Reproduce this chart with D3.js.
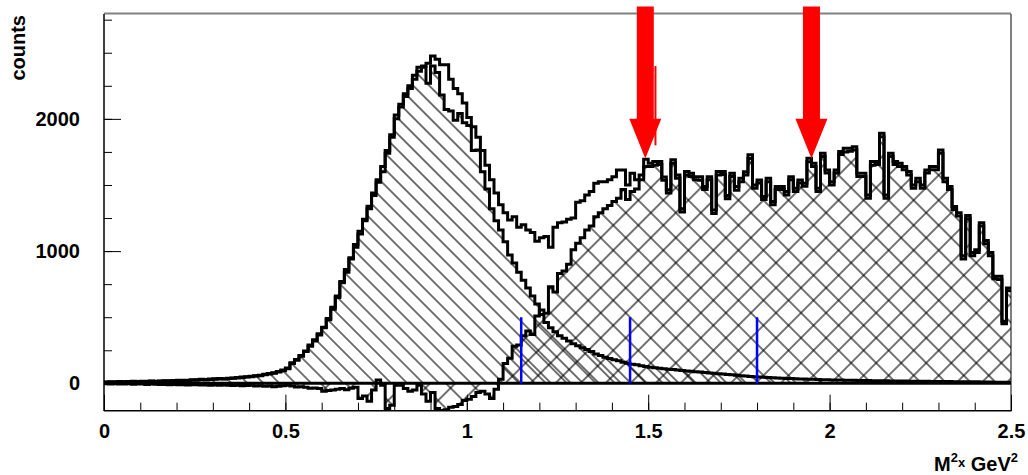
<!DOCTYPE html>
<html>
<head>
<meta charset="utf-8">
<script src="https://cdn.jsdelivr.net/npm/d3@7"></script>
<style>
  body { margin: 0; background: #fff; }
  svg { display: block; }
  text { font-family: "Liberation Sans", Arial, Helvetica, sans-serif; font-weight: bold; fill: #000; }
</style>
</head>
<body>
<svg id="chart" width="1028" height="475"></svg>
<script>
// 200 bins of 0.0125 between 0 and 2.5 (M2x, GeV2)
const xLow = 0, xHigh = 2.5;

// all events (open histogram)
const total = [
  10, 12, 11, 14, 12, 13, 15, 14, 16, 15,
  17, 16, 18, 20, 19, 21, 23, 24, 23, 27,
  28, 30, 29, 32, 34, 36, 35, 39, 41, 45,
  48, 50, 54, 58, 62, 68, 74, 80, 90, 100,
  115, 155, 180, 210, 245, 290, 330, 375, 425, 490,
  575, 660, 770, 860, 950, 1050, 1150, 1240, 1340, 1440,
  1540, 1640, 1760, 1880, 2030, 2110, 2190, 2250, 2330, 2390,
  2400, 2420, 2475, 2450, 2410, 2410, 2300, 2230, 2190, 2120,
  2010, 1940, 1860, 1760, 1650, 1540, 1440, 1350, 1290, 1235,
  1260, 1180, 1200, 1160, 1140, 1075, 1100, 1110, 1030, 1180,
  1215, 1220, 1240, 1250, 1370, 1380, 1425, 1450, 1513, 1525,
  1525, 1540, 1563, 1614, 1614, 1500, 1589, 1540, 1576, 1695,
  1665, 1677, 1677, 1560, 1463, 1690, 1576, 1320, 1601, 1589,
  1563, 1563, 1488, 1563, 1310, 1601, 1601, 1420, 1589, 1488,
  1550, 1600, 1728, 1500, 1538, 1412, 1550, 1375, 1488, 1488,
  1450, 1563, 1475, 1538, 1513, 1702, 1665, 1475, 1740, 1614,
  1525, 1614, 1753, 1778, 1778, 1790, 1589, 1589, 1425, 1677,
  1677, 1892, 1425, 1740, 1677, 1665, 1639, 1601, 1500, 1551,
  1500, 1614, 1639, 1639, 1765, 1551, 1488, 1337, 1290, 965,
  1270, 990, 1010, 1215, 1080, 990, 810, 810, 470, 720
];

// peak component (single hatch)
const peak = [
  8, 10, 9, 12, 10, 11, 13, 12, 14, 13,
  15, 14, 16, 18, 17, 19, 20, 22, 21, 24,
  25, 27, 26, 29, 31, 33, 32, 36, 38, 41,
  44, 47, 50, 55, 58, 64, 70, 77, 85, 95,
  110, 150, 175, 205, 240, 280, 320, 365, 420, 480,
  560, 650, 760, 840, 940, 1030, 1130, 1230, 1320, 1420,
  1520, 1600, 1740, 1860, 2000, 2090, 2170, 2230, 2300, 2360,
  2390, 2270, 2400, 2350, 2180, 2070, 2060, 1990, 2040, 1970,
  1950, 1760, 1765, 1600, 1470, 1320, 1230, 1160, 1070, 970,
  910, 840, 780, 720, 660, 600, 520, 460, 420, 390,
  360, 340, 320, 300, 285, 270, 255, 240, 222, 210,
  198, 188, 178, 170, 160, 152, 145, 140, 132, 128,
  122, 118, 114, 110, 107, 104, 100, 97, 94, 91,
  88, 85, 82, 79, 76, 73, 70, 67, 64, 61,
  58, 55, 52, 50, 48, 46, 44, 42, 40, 39,
  37, 36, 34, 33, 32, 31, 30, 29, 28, 27,
  26, 26, 25, 24, 23, 23, 22, 21, 21, 20,
  20, 19, 19, 18, 18, 17, 17, 16, 16, 15,
  15, 15, 14, 14, 13, 13, 13, 12, 12, 12,
  11, 11, 11, 10, 10, 10, 9, 9, 9, 8
];

// remainder after peak subtraction (cross hatch)
const rest = [
  -3, -5, -4, -6, -5, -4, -7, -6, -5, -8,
  -6, -7, -9, -8, -10, -9, -11, -10, -12, -11,
  -10, -13, -12, -14, -12, -15, -13, -14, -16, -15,
  -18, -17, -15, -20, -18, -22, -20, -25, -22, -18,
  -15, -20, -28, -25, -30, -38, -35, -40, -60, -55,
  -50, -45, -40, -48, -38, -30, -114, -95, -135, -50,
  25, -15, -190, -165, -15, -15, -40, -60, -50, -15,
  -80, -135, -70, -190, -205, -200, -180, -175, -160, -130,
  -120, -100, -70, -60, -80, -115, -45, 30, 150, 190,
  280, 290, 360, 395, 370, 510, 555, 530, 730, 690,
  830, 850, 900, 1010, 1060, 1100, 1160, 1190, 1260, 1290,
  1320, 1345, 1375, 1400, 1465, 1390, 1450, 1470, 1540, 1640,
  1640, 1650, 1655, 1535, 1440, 1665, 1550, 1295, 1575, 1565,
  1540, 1535, 1465, 1540, 1285, 1575, 1580, 1395, 1565, 1460,
  1525, 1575, 1700, 1475, 1515, 1390, 1525, 1350, 1465, 1465,
  1425, 1540, 1450, 1515, 1490, 1675, 1640, 1450, 1715, 1590,
  1500, 1590, 1730, 1750, 1755, 1765, 1565, 1565, 1400, 1650,
  1655, 1865, 1400, 1715, 1655, 1640, 1615, 1575, 1475, 1525,
  1475, 1590, 1615, 1615, 1740, 1525, 1465, 1315, 1265, 940,
  1245, 965, 990, 1190, 1055, 965, 790, 785, 450, 700
];

// cut positions (blue) and arrows (red)
const cuts = [1.15, 1.45, 1.8];
const cutTop = 500;
const arrowsAt = [1.492, 1.95];
const arrowTop = 2850, arrowNeck = 2000, arrowTip = 1700;
const markAt = 1.52, markFrom = 1800, markTo = 2400;

// axis ticks
const xLabels = [0, 0.5, 1, 1.5, 2, 2.5];
const yLabels = [0, 1000, 2000];

const svg = d3.select("#chart");
const x = d3.scaleLinear().domain([xLow, xHigh]).range([104, 1011]);
const y = d3.scaleLinear().domain([-207, 2793]).range([410.7, 14]);

const defs = svg.append("defs");
defs.append("clipPath").attr("id", "plot")
  .append("rect").attr("x", 104).attr("y", 14).attr("width", 907).attr("height", 396.7);

// single hatch "\\\"
const hs = 11.3;
defs.append("pattern").attr("id", "hatch")
  .attr("patternUnits", "userSpaceOnUse")
  .attr("width", hs).attr("height", hs)
  .attr("patternTransform", "rotate(45)")
  .append("line")
  .attr("x1", -1).attr("x2", hs + 1).attr("y1", hs / 2).attr("y2", hs / 2)
  .attr("stroke", "#000").attr("stroke-width", 1.1);

// cross hatch
const cs = 17.7;
const cross = defs.append("pattern").attr("id", "cross")
  .attr("patternUnits", "userSpaceOnUse")
  .attr("width", cs).attr("height", cs)
  .attr("patternTransform", "rotate(45)");
cross.append("line").attr("x1", -1).attr("x2", cs + 1).attr("y1", cs / 2).attr("y2", cs / 2)
  .attr("stroke", "#000").attr("stroke-width", 1.1);
cross.append("line").attr("y1", -1).attr("y2", cs + 1).attr("x1", cs / 2).attr("x2", cs / 2)
  .attr("stroke", "#000").attr("stroke-width", 1.1);

const binW = (xHigh - xLow) / total.length;
function steps(vals) {
  const pts = vals.map((v, i) => [xLow + i * binW, v]);
  pts.push([xHigh, vals[vals.length - 1]]);
  return pts;
}

const area = d3.area()
  .x(d => x(d[0])).y0(y(0)).y1(d => y(d[1]))
  .curve(d3.curveStepAfter);
const line = d3.line()
  .x(d => x(d[0])).y(d => y(d[1]))
  .curve(d3.curveStepAfter);

const plot = svg.append("g").attr("clip-path", "url(#plot)");

plot.append("path").attr("d", area(steps(peak))).attr("fill", "url(#hatch)");
plot.append("path").attr("d", area(steps(rest))).attr("fill", "url(#cross)");

[peak, rest, total].forEach(vals => {
  plot.append("path")
    .attr("d", line(steps(vals)))
    .attr("fill", "none")
    .attr("stroke", "#000")
    .attr("stroke-width", 3)
    .attr("stroke-linejoin", "miter");
});

// zero line
plot.append("line")
  .attr("x1", x(xLow)).attr("x2", x(xHigh))
  .attr("y1", y(0)).attr("y2", y(0))
  .attr("stroke", "#000").attr("stroke-width", 3);

// cut markers
plot.selectAll(".cut").data(cuts).join("line")
  .attr("class", "cut")
  .attr("x1", d => x(d)).attr("x2", d => x(d))
  .attr("y1", y(0)).attr("y2", y(cutTop))
  .attr("stroke", "#0000ff").attr("stroke-width", 2.5);

// axes
const minorX = d3.range(0, 25.5, 1).map(d => d / 10);
const minorY = d3.range(0, 2751, 250);

function styleAxis(g) {
  g.select(".domain").remove();
  g.selectAll(".tick line").attr("stroke", "#000").attr("stroke-width", 1);
  g.selectAll("text").attr("font-family", "'Liberation Sans', Arial, sans-serif")
    .attr("font-weight", "bold").attr("font-size", 20).attr("fill", "#000");
}

svg.append("g").attr("transform", "translate(0,410.7)")
  .call(d3.axisBottom(x).tickValues(minorX).tickSize(-8).tickFormat(""))
  .call(styleAxis);
svg.append("g").attr("transform", "translate(0,410.7)")
  .call(d3.axisBottom(x).tickValues(xLabels).tickSize(-16).tickPadding(13).tickFormat(d3.format("~g")))
  .call(styleAxis);

svg.append("g").attr("transform", "translate(104,0)")
  .call(d3.axisLeft(y).tickValues(minorY).tickSize(-8).tickFormat(""))
  .call(styleAxis);
svg.append("g").attr("transform", "translate(104,0)")
  .call(d3.axisLeft(y).tickValues(yLabels).tickSize(-17).tickPadding(24).tickFormat(d3.format("d")))
  .call(styleAxis);

// frame
svg.append("line").attr("x1", 104).attr("x2", 1011).attr("y1", 13.5).attr("y2", 13.5)
  .attr("stroke", "#808080").attr("stroke-width", 2);
svg.append("line").attr("x1", 1011).attr("x2", 1011).attr("y1", 14).attr("y2", 411)
  .attr("stroke", "#000").attr("stroke-width", 1);
svg.append("line").attr("x1", 104).attr("x2", 104).attr("y1", 14).attr("y2", 411)
  .attr("stroke", "#000").attr("stroke-width", 1.5);
svg.append("line").attr("x1", 104).attr("x2", 1011.5).attr("y1", 410.7).attr("y2", 410.7)
  .attr("stroke", "#000").attr("stroke-width", 1.5);

// arrows
const shaft = 8.5, head = 16;
svg.selectAll(".arrow").data(arrowsAt).join("path")
  .attr("class", "arrow")
  .attr("fill", "#ff0000")
  .attr("d", d => {
    const cx = x(d);
    return "M" + [
      [cx - shaft, y(arrowTop)], [cx + shaft, y(arrowTop)], [cx + shaft, y(arrowNeck)],
      [cx + head, y(arrowNeck)], [cx, y(arrowTip)], [cx - head, y(arrowNeck)],
      [cx - shaft, y(arrowNeck)]
    ].map(p => p.join(",")).join("L") + "Z";
  });
svg.append("line")
  .attr("x1", x(markAt)).attr("x2", x(markAt))
  .attr("y1", y(markFrom)).attr("y2", y(markTo))
  .attr("stroke", "#ff0000").attr("stroke-width", 2);

// titles
svg.append("text")
  .attr("transform", "translate(25,15) rotate(-90)")
  .attr("text-anchor", "end")
  .attr("font-size", 20)
  .text("counts");

const xt = svg.append("text")
  .attr("x", 1018).attr("y", 471)
  .attr("text-anchor", "end")
  .attr("font-size", 20);
xt.append("tspan").text("M");
xt.append("tspan").attr("font-size", 13).attr("dy", -9).text("2");
xt.append("tspan").attr("font-size", 13).attr("dy", 5).text("x");
xt.append("tspan").attr("dy", 4).text(" GeV");
xt.append("tspan").attr("font-size", 13).attr("dy", -9).text("2");
</script>
</body>
</html>
